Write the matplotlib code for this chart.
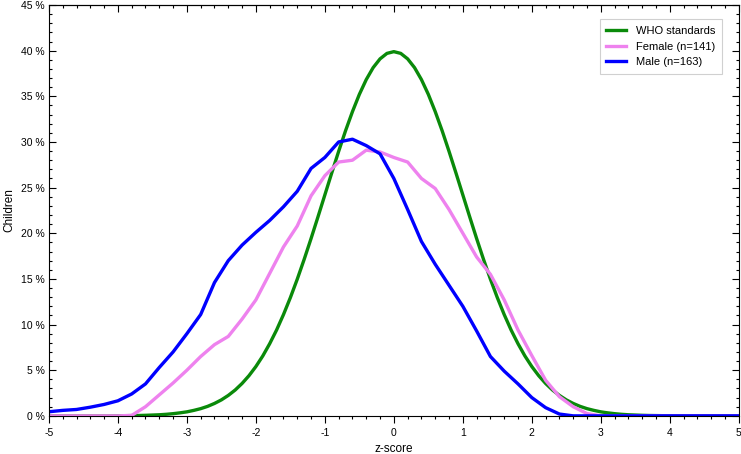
import matplotlib
matplotlib.use('Agg')
import matplotlib.pyplot as plt
from matplotlib.ticker import MultipleLocator, FuncFormatter

plt.rcParams['font.family'] = ['Liberation Sans', 'DejaVu Sans']

# z-score grid of the sample curves (0.2 steps)
z = [-5.0, -4.8, -4.6, -4.4, -4.2, -4.0, -3.8, -3.6, -3.4, -3.2,
     -3.0, -2.8, -2.6, -2.4, -2.2, -2.0, -1.8, -1.6, -1.4, -1.2,
     -1.0, -0.8, -0.6, -0.4, -0.2, 0.0, 0.2, 0.4, 0.6, 0.8,
     1.0, 1.2, 1.4, 1.6, 1.8, 2.0, 2.2, 2.4, 2.6, 2.8,
     3.0, 3.2, 3.4, 3.6, 3.8, 4.0, 4.2, 4.4, 4.6, 4.8, 5.0]

female = [0, 0, 0, 0, 0, 0, 0.05, 1.0, 2.3, 3.6,
          5.0, 6.5, 7.8, 8.7, 10.6, 12.7, 15.6, 18.5, 20.8, 24.1,
          26.3, 27.8, 28.0, 29.1, 28.9, 28.3, 27.8, 26.0, 24.9, 22.6,
          20.0, 17.4, 15.5, 12.7, 9.4, 6.6, 3.9, 2.1, 1.0, 0.25,
          0, 0, 0, 0, 0, 0, 0, 0, 0, 0, 0]

male = [0.45, 0.6, 0.7, 0.95, 1.25, 1.65, 2.4, 3.5, 5.3, 7.0,
        9.0, 11.1, 14.6, 17.0, 18.7, 20.1, 21.4, 22.9, 24.6, 27.1,
        28.3, 30.0, 30.3, 29.6, 28.7, 26.0, 22.6, 19.1, 16.6, 14.3,
        12.0, 9.3, 6.5, 4.9, 3.5, 2.0, 0.9, 0.2, 0, 0,
        0, 0, 0, 0, 0, 0, 0, 0, 0, 0, 0]

# WHO reference curve (0.1 steps)
who_z = [-5.0, -4.9, -4.8, -4.7, -4.6, -4.5, -4.4, -4.3, -4.2, -4.1,
         -4.0, -3.9, -3.8, -3.7, -3.6, -3.5, -3.4, -3.3, -3.2, -3.1,
         -3.0, -2.9, -2.8, -2.7, -2.6, -2.5, -2.4, -2.3, -2.2, -2.1,
         -2.0, -1.9, -1.8, -1.7, -1.6, -1.5, -1.4, -1.3, -1.2, -1.1,
         -1.0, -0.9, -0.8, -0.7, -0.6, -0.5, -0.4, -0.3, -0.2, -0.1,
         0.0, 0.1, 0.2, 0.3, 0.4, 0.5, 0.6, 0.7, 0.8, 0.9,
         1.0, 1.1, 1.2, 1.3, 1.4, 1.5, 1.6, 1.7, 1.8, 1.9,
         2.0, 2.1, 2.2, 2.3, 2.4, 2.5, 2.6, 2.7, 2.8, 2.9,
         3.0, 3.1, 3.2, 3.3, 3.4, 3.5, 3.6, 3.7, 3.8, 3.9,
         4.0, 4.1, 4.2, 4.3, 4.4, 4.5, 4.6, 4.7, 4.8, 4.9, 5.0]

who = [0, 0, 0, 0, 0, 0, 0, 0, 0, 0,
       0.01, 0.02, 0.03, 0.04, 0.06, 0.09, 0.12, 0.17, 0.24, 0.33,
       0.44, 0.60, 0.79, 1.04, 1.36, 1.75, 2.24, 2.83, 3.55, 4.40,
       5.40, 6.56, 7.90, 9.40, 11.09, 12.95, 14.97, 17.14, 19.42, 21.79,
       24.20, 26.61, 28.97, 31.23, 33.32, 35.21, 36.83, 38.14, 39.10, 39.70,
       39.89, 39.70, 39.10, 38.14, 36.83, 35.21, 33.32, 31.23, 28.97, 26.61,
       24.20, 21.79, 19.42, 17.14, 14.97, 12.95, 11.09, 9.40, 7.90, 6.56,
       5.40, 4.40, 3.55, 2.83, 2.24, 1.75, 1.36, 1.04, 0.79, 0.60,
       0.44, 0.33, 0.24, 0.17, 0.12, 0.09, 0.06, 0.04, 0.03, 0.02,
       0.01, 0, 0, 0, 0, 0, 0, 0, 0, 0, 0]

fig = plt.figure(figsize=(7.41, 4.54), dpi=100)
ax = fig.add_axes([0.066, 0.084, 0.931, 0.905])

ax.plot(who_z, who, color='#0a8a0a', lw=2.4, label='WHO standards')
ax.plot(z, female, color='#ee82ee', lw=2.4, label='Female (n=141)')
ax.plot(z, male, color='#0000ff', lw=2.4, label='Male (n=163)')

ax.set_xlim(-5, 5)
ax.set_ylim(0, 45)
ax.xaxis.set_major_locator(MultipleLocator(1))
ax.xaxis.set_minor_locator(MultipleLocator(0.2))
ax.yaxis.set_major_locator(MultipleLocator(5))
ax.yaxis.set_minor_locator(MultipleLocator(1))
ax.yaxis.set_major_formatter(FuncFormatter(lambda v, p: '%d %%' % v))
ax.xaxis.set_major_formatter(FuncFormatter(lambda v, p: '%d' % v))

ax.tick_params(axis='x', which='both', direction='out', labelsize=7.5, pad=3.5)
ax.tick_params(axis='y', which='both', direction='in', left=True, right=True, labelsize=7.5, pad=3)
ax.tick_params(which='major', length=5, width=0.8)
ax.tick_params(which='minor', length=2.5, width=0.8)

top = ax.secondary_xaxis('top')
top.xaxis.set_major_locator(MultipleLocator(1))
top.xaxis.set_minor_locator(MultipleLocator(0.2))
top.tick_params(which='both', direction='in', labeltop=False)
top.tick_params(which='major', length=5, width=0.8)
top.tick_params(which='minor', length=2.5, width=0.8)

for s in ax.spines.values():
    s.set_linewidth(0.8)

ax.set_xlabel('z-score', fontsize=8.5, labelpad=3.5)
ax.set_ylabel('Children', fontsize=8.5, labelpad=4)

leg = ax.legend(loc='upper right', bbox_to_anchor=(0.976, 0.965), borderaxespad=0,
                fontsize=8, fancybox=False, framealpha=1, edgecolor='#d0d0d0',
                handlelength=1.8, handletextpad=0.9, borderpad=0.6, labelspacing=0.5)
leg.get_frame().set_linewidth(0.8)

fig.savefig('out.png', dpi=100)
